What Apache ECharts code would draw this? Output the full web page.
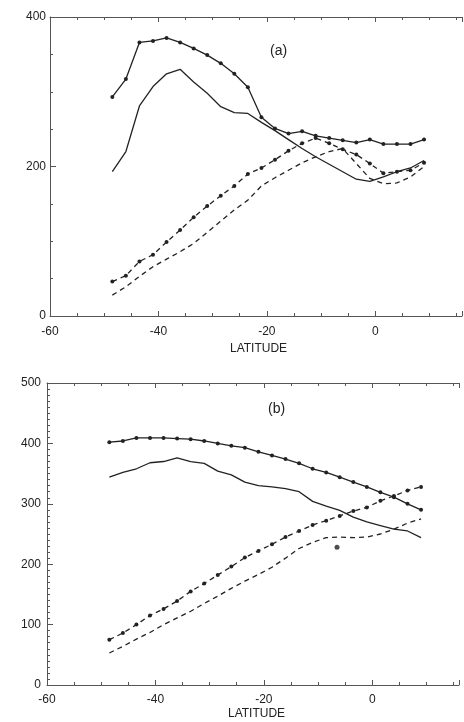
<!DOCTYPE html>
<html>
<head>
<meta charset="utf-8">
<script src="https://cdn.jsdelivr.net/npm/echarts@6/dist/echarts.min.js"></script>
<style>
html,body{margin:0;padding:0;background:#fff;}
#chart{width:464px;height:722px;}
</style>
</head>
<body>
<div id="chart"></div>
<script>
// Latitudes (shared by all curves)
const lat = [-48.5,-46,-43.5,-41,-38.5,-36,-33.5,-31,-28.5,-26,-23.5,-21,-18.5,-16,-13.5,-11,-8.5,-6,-3.5,-1,1.5,4,6.5,9];

// Panel (a)
const aSolidMarked = [293,317,366,368,372,366,358,349,338,324,306,266,251,244,247,241,238,235,232,236,230,230,230,236];
const aSolid       = [193,220,281,307,324,330,313,298,280,272,271,259,248,236,224,213,203,193,183,180,186,193,198,208];
const aDashMarked  = [46,54,73,82,99,115,132,147,161,174,190,198,209,221,231,238,231,223,216,204,191,193,195,205];
const aDash        = [28,39,53,66,76,86,97,112,127,142,155,174,185,195,205,213,220,224,204,184,177,178,186,200];

// Panel (b)
const bSolidMarked = [402,404,409,409,409,408,407,404,400,396,393,386,380,374,367,358,352,344,336,328,319,311,300,290];
const bSolid       = [344,352,358,368,370,376,370,367,354,348,336,330,328,325,320,304,296,289,278,270,264,258,255,244];
const bDashMarked  = [75,86,100,115,126,139,155,168,182,196,211,222,233,245,255,265,272,280,288,294,305,313,322,328];
const bDash        = [53,64,76,87,100,111,122,135,147,160,172,183,195,210,226,236,244,245,244,245,250,258,268,275];
const bStrayLat = [-6.5];
const bStrayVal = [228];

// Axis ticks
const xTicks = {min:-60, max:16, interval:20};
const aY = {min:0, max:400, interval:200};
const bY = {min:0, max:500, interval:100};

const ink = '#222';
const axisCol = '#555';

function pts(xs, ys){ return xs.map((x,i)=>[x, ys[i]]); }

function xAxisBottom(gi, margin){
  return {type:'value', gridIndex:gi, min:xTicks.min, max:xTicks.max, interval:xTicks.interval,
    axisLine:{show:true, onZero:false, lineStyle:{color:axisCol, width:1}},
    axisTick:{show:true, inside:true, length:5, lineStyle:{color:axisCol}},
    minorTick:{show:true, splitNumber:4, length:3, lineStyle:{color:axisCol}},
    splitLine:{show:false},
    axisLabel:{color:ink, fontSize:12, fontFamily:'Liberation Sans, Arial, sans-serif', margin:margin, showMaxLabel:false}
  };
}
function xAxisTop(gi){
  return {type:'value', gridIndex:gi, position:'top', min:xTicks.min, max:xTicks.max, interval:xTicks.interval,
    axisLine:{show:true, onZero:false, lineStyle:{color:axisCol, width:1}},
    axisTick:{show:true, inside:true, length:5, lineStyle:{color:axisCol}},
    minorTick:{show:true, splitNumber:4, length:3, lineStyle:{color:axisCol}},
    splitLine:{show:false}, axisLabel:{show:false}
  };
}
function yAxis(gi, cfg, minorSplit, margin){
  return {type:'value', gridIndex:gi, min:cfg.min, max:cfg.max, interval:cfg.interval,
    axisLine:{show:true, onZero:false, lineStyle:{color:axisCol, width:1}},
    axisTick:{show:true, inside:true, length:6, lineStyle:{color:axisCol}},
    minorTick:{show:true, splitNumber:minorSplit, length:3, lineStyle:{color:axisCol}},
    splitLine:{show:false},
    axisLabel:{color:ink, fontSize:12, fontFamily:'Liberation Sans, Arial, sans-serif', margin:margin}
  };
}

function solid(xi, yi, data, marked){
  return {type:'line', xAxisIndex:xi, yAxisIndex:yi, data:data, smooth:false,
    showSymbol:marked, symbol:'circle', symbolSize:4,
    itemStyle:{color:ink}, lineStyle:{color:ink, width:1.3}, animation:false, z:3};
}
function dashed(xi, yi, data, marked){
  return {type:'line', xAxisIndex:xi, yAxisIndex:yi, data:data, smooth:false,
    showSymbol:marked, symbol:'circle', symbolSize:4,
    itemStyle:{color:ink}, lineStyle:{color:ink, width:1.3, type:[5,4]}, animation:false, z:3};
}

const chart = echarts.init(document.getElementById('chart'), null, {renderer:'canvas'});
chart.setOption({
  backgroundColor:'#fff',
  animation:false,
  grid:[
    {left:50, top:17, width:412, height:299},
    {left:47, top:383, width:412, height:302}
  ],
  xAxis:[ xAxisBottom(0, 10), xAxisTop(0), xAxisBottom(1, 9), xAxisTop(1) ],
  yAxis:[ yAxis(0, aY, 4, 4), yAxis(1, bY, 10, 6) ],
  series:[
    solid(0,0, pts(lat, aSolidMarked), true),
    solid(0,0, pts(lat, aSolid), false),
    dashed(0,0, pts(lat, aDashMarked), true),
    dashed(0,0, pts(lat, aDash), false),
    solid(2,1, pts(lat, bSolidMarked), true),
    solid(2,1, pts(lat, bSolid), false),
    dashed(2,1, pts(lat, bDashMarked), true),
    dashed(2,1, pts(lat, bDash), false),
    {type:'scatter', xAxisIndex:2, yAxisIndex:1, data:pts(bStrayLat, bStrayVal), symbol:'circle', symbolSize:5, itemStyle:{color:ink}, animation:false}
  ],
  graphic:[
    {type:'text', left:270, top:44, style:{text:'(a)', fontSize:14, fill:ink, fontFamily:'Liberation Sans, Arial, sans-serif'}},
    {type:'text', left:268, top:402, style:{text:'(b)', fontSize:14, fill:ink, fontFamily:'Liberation Sans, Arial, sans-serif'}},
    {type:'text', left:230, top:343, style:{text:'LATITUDE', fontSize:12, fill:ink, fontFamily:'Liberation Sans, Arial, sans-serif'}},
    {type:'text', left:228, top:708, style:{text:'LATITUDE', fontSize:12, fill:ink, fontFamily:'Liberation Sans, Arial, sans-serif'}}
  ]
});
</script>
</body>
</html>
